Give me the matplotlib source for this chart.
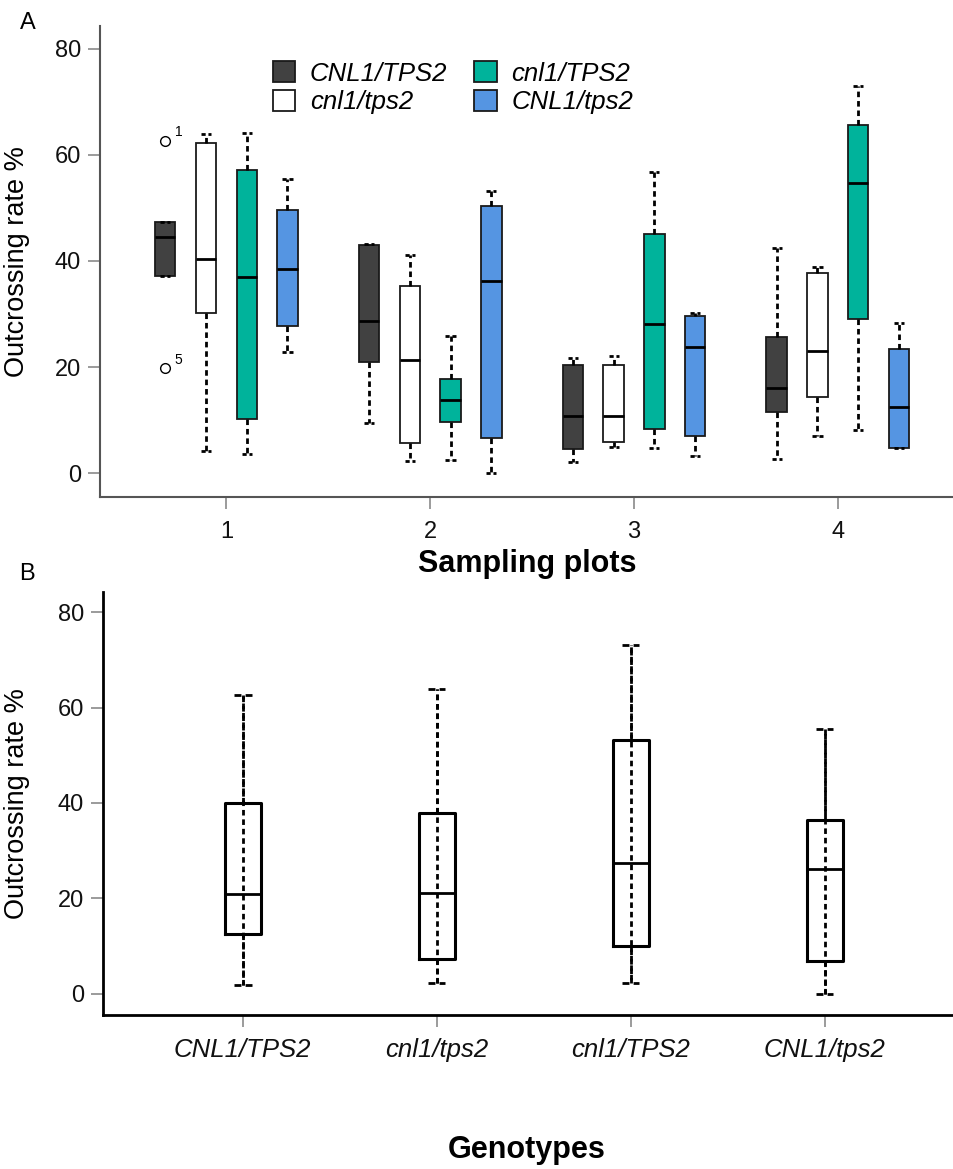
import numpy as np
import matplotlib.pyplot as plt
from matplotlib.patches import Patch

plt.rcParams['font.family'] = ['Liberation Sans', 'DejaVu Sans']

# -----------------------
# data
# -----------------------
genotypes = ['CNL1/TPS2', 'cnl1/tps2', 'cnl1/TPS2', 'CNL1/tps2']
colors = ['#414141', '#ffffff', '#00b39b', '#5595e2']
plots = [1, 2, 3, 4]

# panel A: one row per sampling plot, one value per genotype
a_q1 = [[37.2, 30.1, 10.3, 27.7],
        [21.0, 5.7, 9.7, 6.7],
        [4.5, 5.9, 8.4, 7.0],
        [11.6, 14.3, 29.0, 4.8]]
a_med = [[44.5, 40.3, 36.9, 38.5],
         [28.7, 21.3, 13.8, 36.2],
         [10.8, 10.8, 28.1, 23.8],
         [16.0, 23.1, 54.7, 12.5]]
a_q3 = [[47.4, 62.2, 57.2, 49.6],
        [43.1, 35.3, 17.7, 50.3],
        [20.4, 20.4, 45.0, 29.7],
        [25.6, 37.8, 65.6, 23.5]]
a_lo = [[37.2, 4.2, 3.7, 22.9],
        [9.5, 2.3, 2.5, 0.1],
        [2.1, 4.9, 4.8, 3.2],
        [2.6, 7.1, 8.1, 4.7]]
a_hi = [[47.4, 63.9, 64.1, 55.5],
        [43.2, 41.1, 25.8, 53.2],
        [21.8, 22.0, 56.7, 30.2],
        [42.4, 38.9, 73.0, 28.4]]
outliers_val = [62.7, 19.8]   # plot 1, CNL1/TPS2
outliers_id = ['1', '5']

# panel B: pooled per genotype
b_q1 = [12.4, 7.2, 9.9, 6.9]
b_med = [20.9, 21.2, 27.3, 26.2]
b_q3 = [39.9, 37.8, 53.2, 36.4]
b_lo = [1.9, 2.2, 2.3, 0.0]
b_hi = [62.6, 64.0, 73.1, 55.6]

offsets = [-0.3, -0.1, 0.1, 0.3]
dash = (0, (2.0, 1.4))

fig = plt.figure(figsize=(9.54, 11.69), dpi=100)
axA = fig.add_axes([0.1048, 0.5748, 0.8952, 0.4030])
axB = fig.add_axes([0.1077, 0.1317, 0.8923, 0.3621])


def style_axes(ax, spine_col, spine_lw):
    for s in ['top', 'right']:
        ax.spines[s].set_visible(False)
    for s in ['left', 'bottom']:
        ax.spines[s].set_color(spine_col)
        ax.spines[s].set_linewidth(spine_lw)
    ax.tick_params(length=8.5, width=1.2, color='#8a8a8a', labelsize=17,
                   labelcolor='#111111', pad=5)
    ax.set_yticks([0, 20, 40, 60, 80])
    ax.set_ylim(-4.5, 84.3)


# -----------------------
# panel A
# -----------------------
for i, p in enumerate(plots):
    for j in range(4):
        st = dict(med=a_med[i][j], q1=a_q1[i][j], q3=a_q3[i][j],
                  whislo=a_lo[i][j], whishi=a_hi[i][j], fliers=[])
        if i == 0 and j == 0:
            st['fliers'] = outliers_val
        axA.bxp([st], positions=[p + offsets[j]], widths=0.1, capwidths=0.05,
                patch_artist=True, manage_ticks=False,
                boxprops=dict(facecolor=colors[j], edgecolor='#1a1a1a', linewidth=1.3),
                medianprops=dict(color='black', linewidth=2.0),
                whiskerprops=dict(color='black', linewidth=2.0, linestyle=dash),
                capprops=dict(color='black', linewidth=2.0, linestyle=(0, (1.5, 1.0))),
                flierprops=dict(marker='o', markerfacecolor='white',
                                markeredgecolor='black', markersize=7,
                                markeredgewidth=1.0))

for v, lab in zip(outliers_val, outliers_id):
    axA.annotate(lab, (plots[0] + offsets[0], v), xytext=(7, 3),
                 textcoords='offset points', fontsize=10)

style_axes(axA, '#555555', 1.5)
axA.set_xlim(0.38, 4.57)
axA.set_xticks(plots)
axA.tick_params(axis='x', pad=9)
axA.set_ylabel('Outcrossing rate %', fontsize=19.5)
axA.yaxis.set_label_coords(-0.082, 0.5)
axA.set_xlabel('Sampling plots', fontsize=22, fontweight='bold')
axA.xaxis.label.set_va('center')
axA.xaxis.set_label_coords(0.5, -0.142)

handles = [Patch(facecolor=c, edgecolor='#1a1a1a', linewidth=1.3) for c in colors]
leg = axA.legend(handles, genotypes, ncol=2, frameon=False, loc='upper left',
                 bbox_to_anchor=(0.2026, 0.925), borderpad=0, borderaxespad=0,
                 handlelength=0.86, handleheight=0.86, handletextpad=0.58,
                 columnspacing=1.05, labelspacing=0.18,
                 prop=dict(size=18.5, style='italic'))

# -----------------------
# panel B
# -----------------------
pos_b = np.arange(1, 5)
stats_b = [dict(med=m, q1=a, q3=b, whislo=lo, whishi=hi, fliers=[])
           for m, a, b, lo, hi in zip(b_med, b_q1, b_q3, b_lo, b_hi)]
# dashed whisker runs through the (unfilled) box
axB.vlines(pos_b, b_lo, b_hi, colors='black', linewidth=2.0, linestyles=dash)
axB.bxp(stats_b, positions=pos_b, widths=0.186, capwidths=0.09,
        manage_ticks=False,
        boxprops=dict(color='black', linewidth=2.2),
        medianprops=dict(color='black', linewidth=2.0),
        whiskerprops=dict(color='black', linewidth=2.0, linestyle=dash),
        capprops=dict(color='black', linewidth=2.0, linestyle=(0, (2.5, 1.5))))

style_axes(axB, 'black', 2.0)
axB.set_xlim(0.278, 4.667)
axB.set_xticks(pos_b)
axB.set_xticklabels(genotypes, fontsize=18.5, style='italic')
axB.tick_params(axis='x', pad=8)
axB.set_ylabel('Outcrossing rate %', fontsize=19.5)
axB.yaxis.set_label_coords(-0.0854, 0.5)
axB.set_xlabel('Genotypes', fontsize=22, fontweight='bold')
axB.xaxis.label.set_va('center')
axB.xaxis.set_label_coords(0.498, -0.319)

fig.text(28 / 954, 1 - 23 / 1169, 'A', fontsize=17, ha='center', va='center')
fig.text(27 / 954, 1 - 574 / 1169, 'B', fontsize=17, ha='center', va='center')

fig.savefig('out.png', dpi=100)
